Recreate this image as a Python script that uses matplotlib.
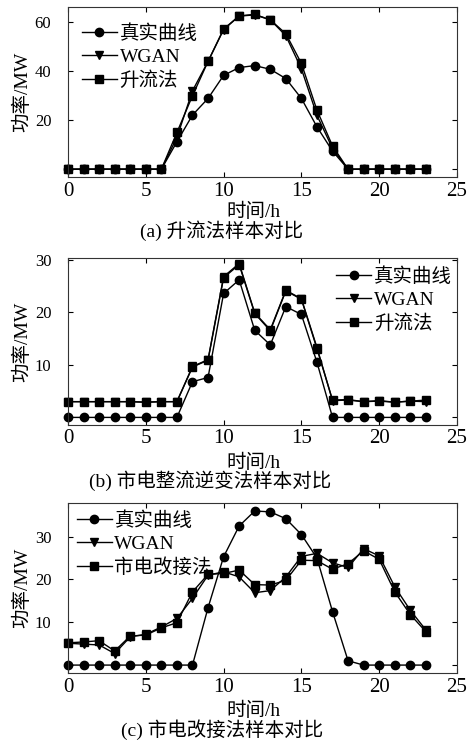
import matplotlib
matplotlib.use("Agg")
import matplotlib.pyplot as plt

plt.rcParams['font.family'] = ['Liberation Serif', 'Noto Sans CJK SC']
plt.rcParams['font.size'] = 14
plt.rcParams['axes.unicode_minus'] = False

hours = list(range(24))

# (a) 升流法
a_real = [0, 0, 0, 0, 0, 0, 0, 11.2, 22.1, 28.9, 38.3, 41.5, 42.3, 40.8, 37.0, 28.9, 17.3, 7.4,
          0, 0, 0, 0, 0, 0]
a_wgan = [0, 0, 0, 0, 0, 0, 0, 13.0, 32.0, 44.0, 57.0, 62.5, 63.0, 61.0, 54.5, 41.0, 22.0, 8.5,
          0, 0, 0, 0, 0, 0]
a_method = [0, 0, 0, 0, 0, 0, 0, 15.0, 30.0, 44.0, 57.2, 62.6, 63.2, 61.0, 55.3, 43.2, 24.1, 9.5,
            0, 0, 0, 0, 0, 0]

# (b) 市电整流逆变法
b_real = [0, 0, 0, 0, 0, 0, 0, 0, 6.8, 7.6, 23.6, 26.2, 16.6, 13.8, 21.1, 19.6, 10.5, 0,
          0, 0, 0, 0, 0, 0]
b_wgan = [3.0, 3.0, 3.0, 3.0, 3.0, 2.9, 3.0, 3.0, 9.7, 11.0, 26.8, 29.3, 19.9, 16.7, 24.2, 22.6, 13.3, 3.2,
          3.3, 3.0, 3.1, 2.9, 3.1, 3.0]
b_method = [3.0, 3.0, 3.0, 3.0, 3.0, 2.9, 3.0, 3.0, 9.6, 10.9, 26.6, 29.1, 19.8, 16.5, 24.1, 22.5, 13.1, 3.3,
            3.4, 3.0, 3.2, 2.9, 3.1, 3.3]

# (c) 市电改接法
c_real = [0, 0, 0, 0, 0, 0, 0, 0, 0, 13.4, 25.3, 32.5, 36.0, 35.8, 34.2, 30.5, 25.0, 12.5,
          1.0, 0, 0, 0, 0, 0]
c_wgan = [5.1, 4.9, 4.7, 2.7, 6.6, 7.2, 8.9, 10.9, 15.6, 21.0, 21.8, 20.6, 16.9, 17.4, 20.6, 25.4, 26.1, 23.9,
          22.8, 27.2, 25.5, 18.3, 12.8, 8.2]
c_method = [5.2, 5.4, 5.7, 3.3, 6.8, 7.0, 8.7, 9.9, 17.1, 21.2, 21.4, 22.2, 18.8, 18.7, 19.8, 24.5, 24.4, 22.4,
            23.7, 26.7, 24.7, 17.1, 11.8, 7.8]

labels_a = ['真实曲线', 'WGAN', '升流法']
labels_b = ['真实曲线', 'WGAN', '升流法']
labels_c = ['真实曲线', 'WGAN', '市电改接法']
captions = ['(a) 升流法样本对比', '(b) 市电整流逆变法样本对比', '(c) 市电改接法样本对比']
xticks = [0, 5, 10, 15, 20, 25]
yticks_a = [0, 20, 40, 60]
yticks_b = [0, 10, 20, 30]
yticks_c = [0, 10, 20, 30]

W, H = 474, 743
fig = plt.figure(figsize=(W / 100, H / 100), dpi=100)


def make_ax(top, bottom):
    left, right = 68, 457
    return fig.add_axes([left / W, 1 - bottom / H, (right - left) / W, (bottom - top) / H])


panels = [
    (make_ax(7.3, 177.3), a_real, a_wgan, a_method, labels_a, yticks_a, (-3.3, 66.1), (0.035, 0.899), 212, 231),
    (make_ax(258.3, 424.5), b_real, b_wgan, b_method, labels_b, yticks_b, (-1.35, 30.3), (0.69, 0.945), 463, 481),
    (make_ax(503.3, 673.0), c_real, c_wgan, c_method, labels_c, yticks_c, (-1.85, 37.8), (0.022, 0.952), 711, 730),
]

cap_x = [222, 210, 222]

for i, (ax, real, wgan, meth, labs, yt, ylim, lpos, xl_y, cap_y) in enumerate(panels):
    kw = dict(color='black', lw=1.0, markersize=6, clip_on=False)
    ax.plot(hours, real, marker='o', label=labs[0], **kw)
    ax.plot(hours, wgan, marker='v', label=labs[1], **kw)
    ax.plot(hours, meth, marker='s', label=labs[2], **kw)
    ax.set_xlim(0, 25)
    ax.set_ylim(*ylim)
    ax.set_xticks(xticks)
    ax.set_yticks(yt)
    ax.set_yticklabels([''] + [str(v) for v in yt[1:]])
    ax.tick_params(direction='in', top=True, right=True, length=3.5, width=0.8, colors='black')
    ax.tick_params(axis='x', pad=3.5, labelsize=15)
    ax.tick_params(axis='y', pad=12, labelsize=12)
    for s in ax.spines.values():
        s.set_linewidth(0.8)
        s.set_color('#333333')
    ax.set_ylabel('功率/MW', fontsize=14)
    ax.yaxis.set_label_coords(-0.094, 0.5)
    ax.set_xlabel('时间/h', fontsize=14)
    bbox = ax.get_position()
    ax.xaxis.set_label_coords((253 - 68) / 389, (1 - xl_y / H - bbox.y0) / bbox.height)
    ax.xaxis.label.set_va('center')
    ax.legend(loc='upper left', bbox_to_anchor=lpos, frameon=False,
              handlelength=1.8, handletextpad=0.15, labelspacing=0.27,
              borderpad=0, borderaxespad=0, fontsize=14)
    fig.text(cap_x[i] / W, 1 - cap_y / H, captions[i], ha='center', va='center', fontsize=14)

fig.savefig('out.png', dpi=100)
